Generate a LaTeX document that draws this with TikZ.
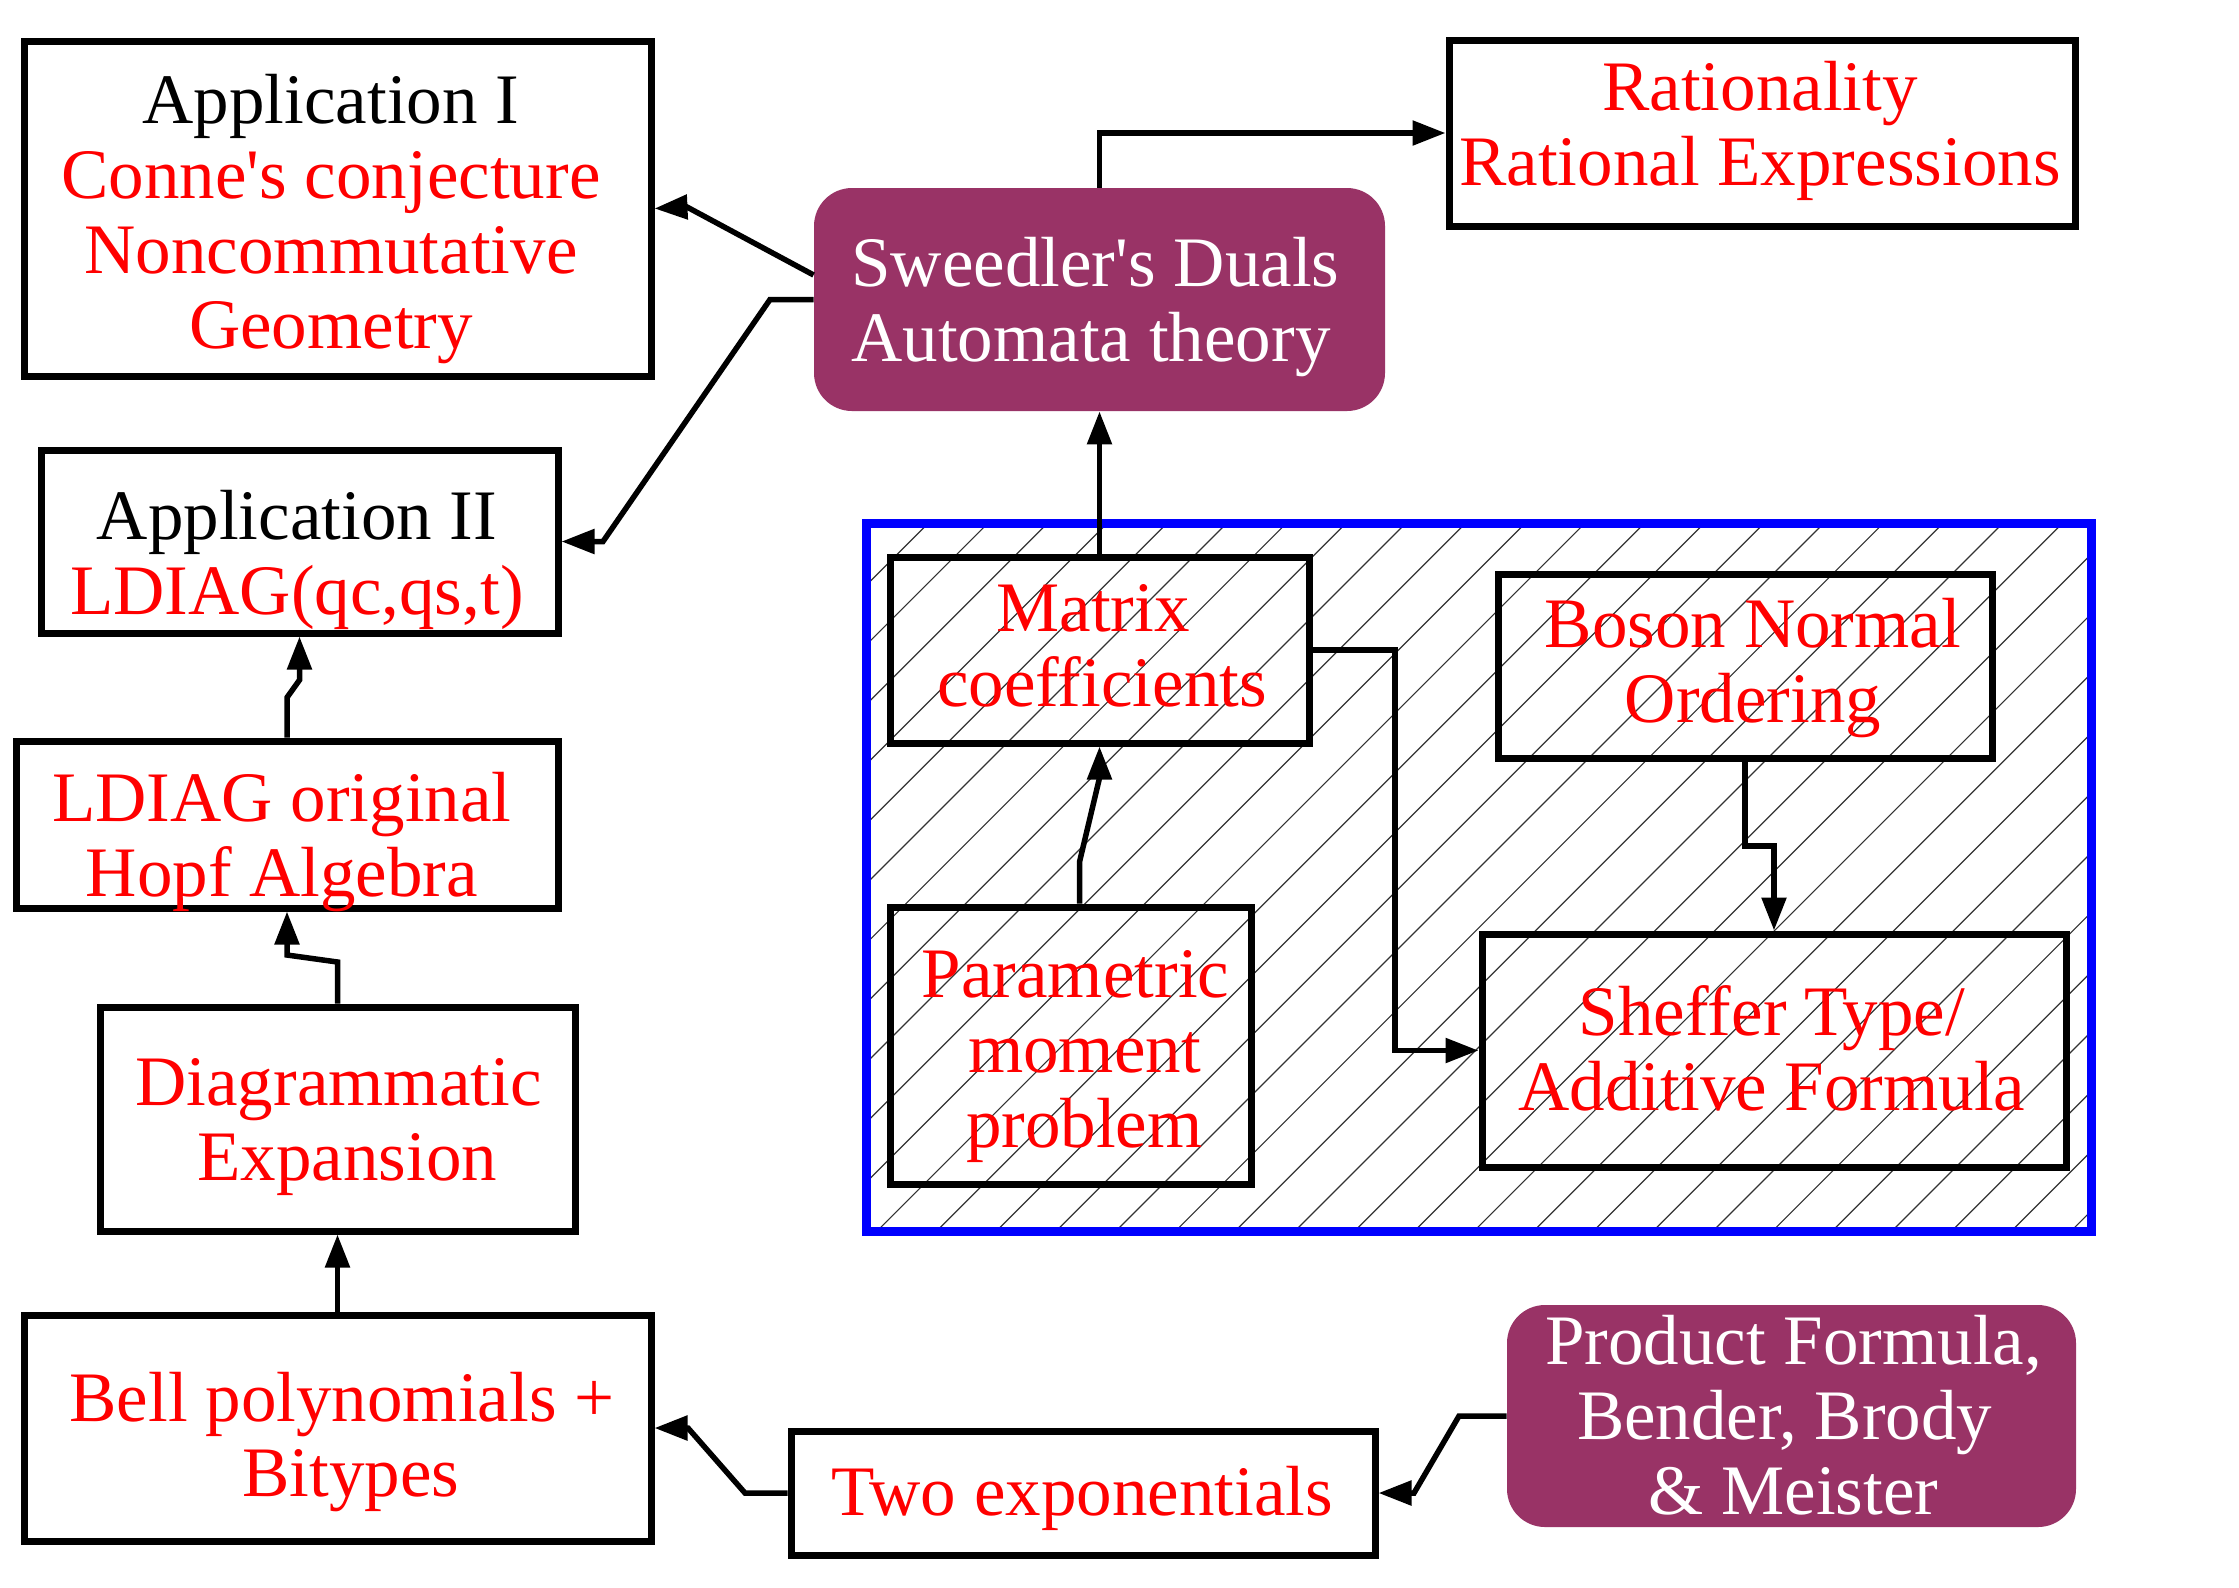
\documentclass[tikz,border=0pt]{standalone}
\usepackage{fontspec}
\setmainfont{Liberation Serif}
\usetikzlibrary{arrows.meta}
\definecolor{plum}{RGB}{153,51,102}
\newcommand\mlines[1]{\vtop{\halign{\hfil##\hfil\cr#1\crcr}}}
\newcommand\llines[1]{\vtop{\halign{##\hfil\cr#1\crcr}}}
\tikzset{
  box/.style={draw=black, line width=3.5pt, inner sep=0pt, rectangle},
  rbox/.style={fill=plum, draw=none, rounded corners=19pt, inner sep=0pt, rectangle},
  region/.style={draw=blue, line width=4.5pt, inner sep=0pt, rectangle},
  txt/.style={inner sep=0pt, anchor=base, text=red, font=\fontsize{35.5}{37.5}\selectfont},
  wtxt/.style={txt, text=white},
  hatchline/.style={draw=black!80, line width=0.6pt},
  conn/.style={draw=black, line width=2.75pt, -{Triangle[length=16.5pt,width=12pt]}},
}
\begin{document}
\begin{tikzpicture}[x=0.5pt,y=-0.5pt]
\useasboundingbox (0,0) rectangle (2239,1587);

% hatched region
\begin{scope}
  \clip (866,523) rectangle (2091,1231);
  \foreach \k in {-19,...,13}{
    \pgfmathsetmacro\c{2526+59.7*\k}
    \draw[hatchline] (\c-1231,1231) -- (\c-523,523);
  }
\end{scope}
\node[region, minimum width=612.5pt, minimum height=354pt] (region) at (1478.5,877) {};

% boxes
\node[box, minimum width=313.5pt, minimum height=167.5pt] (appI) at (337.5,208.5) {};
\node[rbox, minimum width=285.5pt, minimum height=111.5pt] (sweed) at (1099.5,299.5) {};
\node[box, minimum width=313pt, minimum height=93pt] (rat) at (1762,133) {};
\node[box, minimum width=258.5pt, minimum height=91.5pt] (appII) at (299.5,541.5) {};
\node[box, minimum width=271pt, minimum height=83.5pt] (ldorig) at (287,824.5) {};
\node[box, minimum width=237.5pt, minimum height=112pt] (diag) at (337.5,1119) {};
\node[box, minimum width=313.5pt, minimum height=113pt] (bell) at (337.5,1428) {};
\node[box, minimum width=292pt, minimum height=62pt] (twoexp) at (1083,1493) {};
\node[rbox, minimum width=284.5pt, minimum height=111pt] (prod) at (1791.5,1416) {};
\node[box, minimum width=209.5pt, minimum height=93pt] (matrix) at (1099.5,650) {};
\node[box, minimum width=247pt, minimum height=92pt] (boson) at (1745,666) {};
\node[box, minimum width=180.5pt, minimum height=138.5pt] (param) at (1070.5,1045.5) {};
\node[box, minimum width=292pt, minimum height=116.5pt] (sheff) at (1774,1050.5) {};

% texts
\node[txt] (appIt) at (331,123) {\mlines{{\color{black}Application I}\cr Conne\textquotesingle s conjecture\cr Noncommutative\cr Geometry}};
\node[wtxt, anchor=base west] (sweedt) at (851,286) {\llines{Sweedler\textquotesingle s Duals\cr Automata theory}};
\node[txt] (ratt) at (1760,110) {\mlines{Rationality\cr Rational Expressions}};
\node[txt] (appIIt) at (297,539) {\mlines{{\color{black}Application II}\cr LDIAG(qc,qs,t)}};
\node[txt] (ldorigt) at (282,821.5) {\mlines{LDIAG original\cr Hopf Algebra}};
\node[txt] (diagt) at (338.5,1105) {\mlines{Diagrammatic\cr \ Expansion}};
\node[txt] (bellt) at (342,1421) {\mlines{Bell polynomials +\cr \ Bitypes}};
\node[txt] (twoexpt) at (1082,1515) {Two exponentials};
\node[wtxt] (prodt) at (1793.5,1364) {\mlines{Product Formula,\cr Bender, Brody\ \cr \& Meister}};
\node[txt] (matrixt) at (1102,631.5) {\mlines{Matrix\ \cr coefficients}};
\node[txt] (bosont) at (1753,647) {\mlines{Boson Normal\cr Ordering}};
\node[txt] (paramt) at (1075.5,997.5) {\mlines{Parametric\cr \ moment\cr \ problem}};
\node[txt] (shefft) at (1772,1035.5) {\mlines{Sheffer Type/\cr Additive Formula}};

% connectors
\draw[conn] ([yshift=12.25pt]sweed.west) -- (687,207) -- (appI.east);
\draw[conn] (sweed.west) -- (770,299.5) -- (603,541.5) -- (appII.east);
\draw[conn] (sweed.north) |- (rat.west);
\draw[conn] (matrix.north) -- (sweed.south);
\draw[conn] ([xshift=4.5pt]param.north) -- (1079.5,862) -- (1099.5,778) -- (matrix.south);
\draw[conn] (matrix.east) -- (1395,650) |- (sheff.west);
\draw[conn] (boson.south) -- (1745,846) -| (sheff.north);
\draw[conn] (twoexp.west) -- (745,1493) -- (688,1428) -- (bell.east);
\draw[conn] (prod.west) -- (1459,1416) -- (1414,1493) -- (twoexp.east);
\draw[conn] (bell.north) -- (diag.south);
\draw[conn] (diag.north) -- (337.5,962) -- (287,955) -- (ldorig.south);
\draw[conn] (ldorig.north) -- (287,697.5) -- (299.5,680) -- (appII.south);
\end{tikzpicture}
\end{document}
